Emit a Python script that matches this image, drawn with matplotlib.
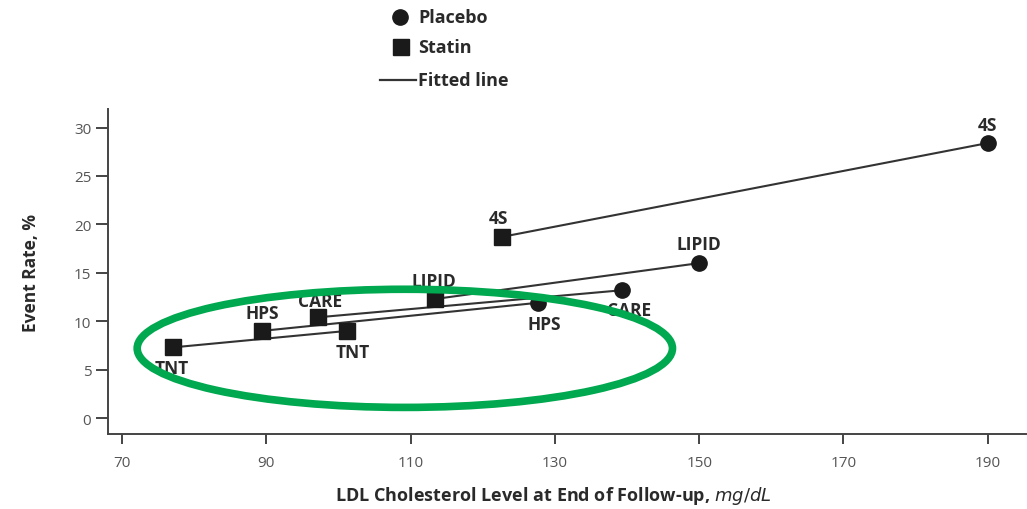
import matplotlib
matplotlib.use("Agg")
import matplotlib.pyplot as plt
from matplotlib.patches import Ellipse
from matplotlib.lines import Line2D

# Data
trials = ["4S", "LIPID", "CARE", "HPS"]
placebo_ldl = [190, 150, 139.3, 127.6]
placebo_rate = [28.4, 16.0, 13.2, 11.9]
statin_ldl = [122.6, 113.4, 97.1, 89.4]
statin_rate = [18.7, 12.3, 10.4, 9.0]
tnt_ldl = [77.1, 101.2]
tnt_rate = [7.3, 9.0]

xticks = [70, 90, 110, 130, 150, 170, 190]
yticks = [0, 5, 10, 15, 20, 25, 30]

plt.rcParams['font.family'] = ['Open Sans', 'DejaVu Sans']

fig = plt.figure(figsize=(10.27, 5.10), dpi=100)
ax = fig.add_axes([0.1052, 0.147, 0.8938, 0.637])

line_col = '#333333'
mark_col = '#1a1a1a'

# fitted lines
for i in range(len(trials)):
    ax.plot([statin_ldl[i], placebo_ldl[i]], [statin_rate[i], placebo_rate[i]],
            color=line_col, lw=1.5, zorder=2)
ax.plot(tnt_ldl, tnt_rate, color=line_col, lw=1.5, zorder=2)

ax.plot(placebo_ldl, placebo_rate, 'o', color=mark_col, ms=11, zorder=3, lw=0)
ax.plot(statin_ldl, statin_rate, 's', color=mark_col, ms=11.5, zorder=3, lw=0)
ax.plot(tnt_ldl, tnt_rate, 's', color=mark_col, ms=11.5, zorder=3, lw=0)

lab_kw = dict(fontsize=12.5, fontweight='bold', color='#2a2a2a', ha='center', va='center', zorder=4)
# placebo labels (offsets in points)
p_off = [(0, 13), (0, 14), (5, -14), (5, -15)]
for i, t in enumerate(trials):
    ax.annotate(t, (placebo_ldl[i], placebo_rate[i]), xytext=p_off[i],
                textcoords='offset points', **lab_kw)
s_off = [(-2, 14), (-1, 13), (2, 12), (0, 13)]
for i, t in enumerate(trials):
    ax.annotate(t, (statin_ldl[i], statin_rate[i]), xytext=s_off[i],
                textcoords='offset points', **lab_kw)
t_off = [(-1, -15), (4, -15)]
for i in range(2):
    ax.annotate("TNT", (tnt_ldl[i], tnt_rate[i]), xytext=t_off[i],
                textcoords='offset points', **lab_kw)

# green ellipse
ell = Ellipse((109.2, 7.2), 74.2, 12.2, fill=False, edgecolor='#00a84f', lw=5.5,
              zorder=5, clip_on=False)
ax.add_patch(ell)

ax.set_xlim(68.06, 195.3)
ax.set_ylim(-1.65, 31.9)
ax.set_xticks(xticks)
ax.set_yticks(yticks)
ax.spines['top'].set_visible(False)
ax.spines['right'].set_visible(False)
for s in ['left', 'bottom']:
    ax.spines[s].set_color('#444444')
    ax.spines[s].set_linewidth(1.4)
ax.tick_params(axis='y', length=9, width=1.4, color='#444444', labelsize=11,
               labelcolor='#555555', pad=3)
ax.tick_params(axis='x', length=7, width=1.4, color='#444444', labelsize=11,
               labelcolor='#555555', pad=8)

fig.text(0.030, 0.465, "Event Rate, %", rotation=90, ha='center', va='center',
         fontsize=12.5, fontweight='bold', color='#2a2a2a')
fig.text(0.539, 0.027, r"LDL Cholesterol Level at End of Follow-up, $\mathbf{\mathit{mg/dL}}$",
         ha='center', va='center', fontsize=13, fontweight='bold', color='#2a2a2a')

# legend (manual, figure coordinates)
fig.add_artist(Line2D([0.389], [0.964], marker='o', color=mark_col, ms=11, lw=0,
                      transform=fig.transFigure))
fig.add_artist(Line2D([0.390], [0.906], marker='s', color=mark_col, ms=11, lw=0,
                      transform=fig.transFigure))
fig.add_artist(Line2D([0.370, 0.405], [0.841, 0.841], color=line_col, lw=1.6,
                      transform=fig.transFigure))
leg_kw = dict(fontsize=13, fontweight='bold', color='#2a2a2a', ha='left', va='center')
fig.text(0.407, 0.964, "Placebo", **leg_kw)
fig.text(0.407, 0.906, "Statin", **leg_kw)
fig.text(0.407, 0.841, "Fitted line", **leg_kw)

fig.savefig("out.png", dpi=100)
